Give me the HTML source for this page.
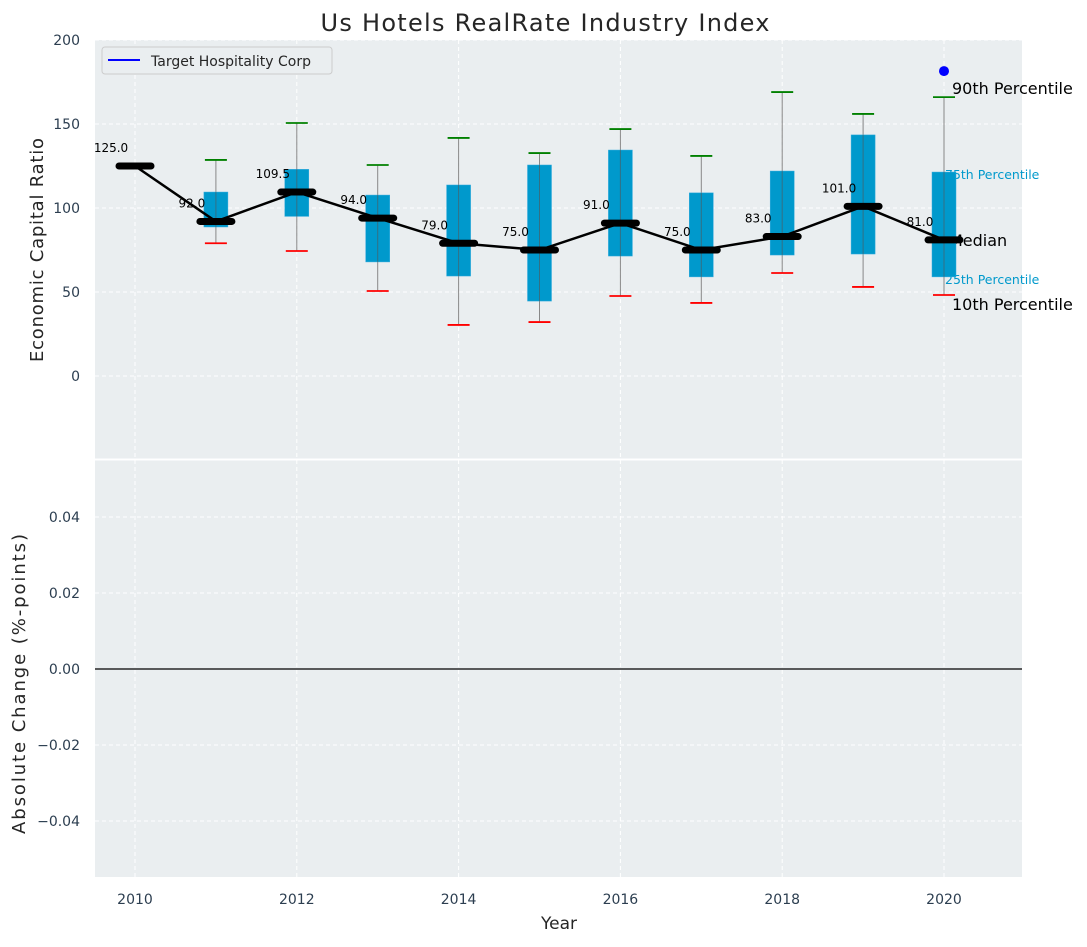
<!DOCTYPE html>
<html><head><meta charset="utf-8"><style>
body{margin:0;background:#fff;font-family:"Liberation Sans","DejaVu Sans",sans-serif}
svg text{font-family:"DejaVu Sans","Liberation Sans",sans-serif}
</style></head><body>
<svg id="c" width="1087" height="942" xmlns="http://www.w3.org/2000/svg">
<text x="545" y="31" font-size="24" text-anchor="middle" textLength="449" fill="#262626">Us Hotels RealRate Industry Index</text>
<rect x="95" y="40" width="927" height="419" fill="#eaeef0"/>
<rect x="95" y="460" width="927" height="417" fill="#eaeef0"/>
<g id="grid"></g>
<g id="marks"></g>
<g id="ticks"></g>
<text transform="translate(43,250) rotate(-90)" font-size="18" text-anchor="middle" textLength="224" fill="#262626">Economic Capital Ratio</text>
<text transform="translate(25,684) rotate(-90)" font-size="18" text-anchor="middle" textLength="300" fill="#262626">Absolute Change (%-points)</text>
<text x="559" y="929" font-size="17" text-anchor="middle" fill="#262626">Year</text>
<g>
<rect x="102" y="47" width="230" height="27" rx="3" fill="#eaeef0" stroke="#ccc"/>
<line x1="108" y1="60" x2="140" y2="60" stroke="#0000ff" stroke-width="2"/>
<text x="151" y="66" font-size="14" fill="#262626">Target Hospitality Corp</text>
</g>
</svg>
<script>
const years=[2010,2011,2012,2013,2014,2015,2016,2017,2018,2019,2020];
const medians=[125,92,109.5,94,79,75,91,75,83,101,81];
const q1=[null,88.7,95,67.9,59.5,44.6,71.4,59,72,72.6,59];
const q3=[null,109.5,123,107.7,113.7,125.6,134.5,109,122,143.5,121.4];
const wLow=[null,79,74.4,50.6,30.4,32.1,47.6,43.5,61.3,53,48.2];
const wHigh=[null,128.6,150.6,125.6,141.7,132.7,147,131,169,156,166];
const companyYears=[2020];
const companyVals=[181.5];
const yTicksTop=[0,50,100,150,200];
const yTicksBot=[-0.04,-0.02,0,0.02,0.04];
const yTickLabelsBot=["\u22120.04","\u22120.02","0.00","0.02","0.04"];
const xTicks=[2010,2012,2014,2016,2018,2020];

const NS="http://www.w3.org/2000/svg";
const X=v=>135+(v-2010)*80.9;
const Y=v=>376-v*1.68;
const Y2=v=>669-v*3800;
function mk(p,t,a){const e=document.createElementNS(NS,t);for(const k in a)e.setAttribute(k,a[k]);p.appendChild(e);return e;}
const grid=document.getElementById('grid'),marks=document.getElementById('marks'),ticks=document.getElementById('ticks');
const gs={stroke:'#fff','stroke-dasharray':'4,3','stroke-width':1};
xTicks.forEach(t=>{
  let l=mk(grid,'line',Object.assign({x1:X(t),x2:X(t),y1:40,y2:459},gs));
  
  let l2=mk(grid,'line',Object.assign({x1:X(t),x2:X(t),y1:460,y2:877},gs));
  
  let tx=mk(ticks,'text',{x:X(t),y:904,'font-size':14,'text-anchor':'middle',fill:'#2c3e50'});tx.textContent=t;
  
});
yTicksTop.forEach(t=>{
  let l=mk(grid,'line',Object.assign({x1:95,x2:1022,y1:Y(t),y2:Y(t)},gs));
  
  let tx=mk(ticks,'text',{x:80,y:Y(t)+5,'font-size':14,'text-anchor':'end',fill:'#2c3e50'});tx.textContent=t;
  
});
yTicksBot.forEach((t,i)=>{
  let l=mk(grid,'line',Object.assign({x1:95,x2:1022,y1:Y2(t),y2:Y2(t)},gs));
  
  let tx=mk(ticks,'text',{x:80,y:Y2(t)+5,'font-size':14,'text-anchor':'end',fill:'#2c3e50'});tx.textContent=yTickLabelsBot[i];
  
});
let zl=mk(marks,'line',{x1:95,x2:1022,y1:Y2(0),y2:Y2(0),stroke:'#000','stroke-width':1.2});

let ln=mk(grid,'line',{x1:95,x2:1022,y1:459.5,y2:459.5,stroke:'#fff','stroke-width':2});
const last=years.length-1, lx=X(years[last]);
[["75th Percentile",lx+1,Y(q3[last])+7,'#0099cc',12.5,'label-75th'],["25th Percentile",lx+1,Y(q1[last])+7,'#0099cc',12.5,'label-25th'],
 ["90th Percentile",lx+8,Y(wHigh[last])-3,'#000',16,'label-90th'],["10th Percentile",lx+8,Y(wLow[last])+15,'#000',16,'label-10th'],
 ["Median",lx+5,Y(medians[last])+6,'#000',16,'label-median']].forEach(a=>{
  let t=mk(marks,'text',{x:a[1],y:a[2],'font-size':a[4],fill:a[3]});t.textContent=a[0];
  
});
years.forEach((yr,i)=>{
  if(q1[i]===null)return;
  const cx=X(yr);
  let w=mk(marks,'line',{x1:cx,x2:cx,y1:Y(wHigh[i]),y2:Y(wLow[i]),stroke:'#888','stroke-width':1});
  
  let b=mk(marks,'rect',{x:cx-12,y:Y(q3[i]),width:24,height:Y(q1[i])-Y(q3[i]),fill:'#0099cc',stroke:'#33aadd','stroke-width':0.5});
  
  let w2=mk(marks,'line',{x1:cx,x2:cx,y1:Y(q3[i]),y2:Y(q1[i]),stroke:'#555','stroke-width':1,opacity:0.6});
  
  let h=mk(marks,'line',{x1:cx-11,x2:cx+11,y1:Y(wHigh[i]),y2:Y(wHigh[i]),stroke:'#008000','stroke-width':1.8});
  
  let l=mk(marks,'line',{x1:cx-11,x2:cx+11,y1:Y(wLow[i]),y2:Y(wLow[i]),stroke:'#ff0000','stroke-width':1.8});
  
});
let pl=mk(marks,'polyline',{points:years.map((y,i)=>X(y)+','+Y(medians[i])).join(' '),fill:'none',stroke:'#000','stroke-width':2.5});

years.forEach((yr,i)=>{
  const cx=X(yr),my=Y(medians[i]);
  let m=mk(marks,'line',{x1:cx-16,x2:cx+16,y1:my,y2:my,stroke:'#000','stroke-width':7,'stroke-linecap':'round'});
  
  let t=mk(marks,'text',{x:cx-24,y:my-14,'font-size':12,'text-anchor':'middle',fill:'#000'});t.textContent=medians[i].toFixed(1);
  
});
companyYears.forEach((yr,i)=>{
  let c=mk(marks,'circle',{cx:X(yr),cy:Y(companyVals[i]),r:5,fill:'#0000ff'});
  
});
</script>
</body></html>
